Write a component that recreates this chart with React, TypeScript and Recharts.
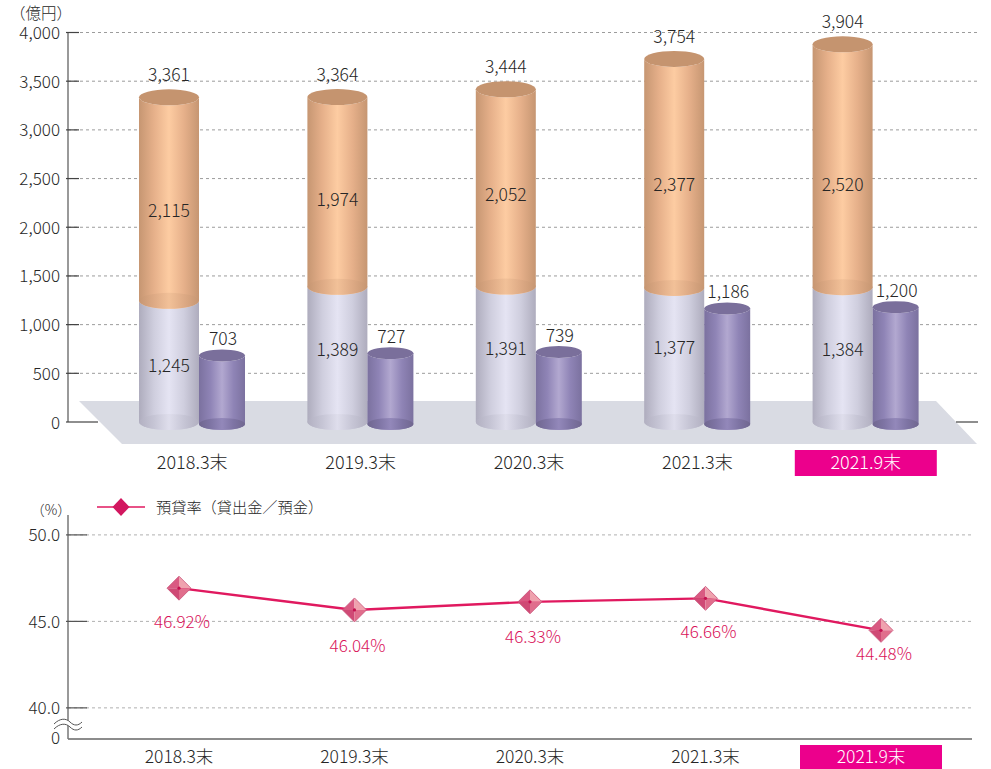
import React from 'react';
import {
    BarChart, Bar, LineChart, Line, XAxis, YAxis, CartesianGrid, LabelList,
} from 'recharts';

const periods = ['2018.3末', '2019.3末', '2020.3末', '2021.3末', '2021.9末'];
const loansCorporate = [1245, 1389, 1391, 1377, 1384];
const loansPersonal = [2115, 1974, 2052, 2377, 2520];
const totals = [3361, 3364, 3444, 3754, 3904];
const deposits = [703, 727, 739, 1186, 1200];
const yTicks = [0, 500, 1000, 1500, 2000, 2500, 3000, 3500, 4000];

// markers sit where the picture draws them, the printed labels are kept apart
const ratePlotted = [46.92, 45.66, 46.13, 46.33, 44.48];
const rateLabels = ['46.92%', '46.04%', '46.33%', '46.66%', '44.48%'];
const rateTicks = [38.2, 40, 45, 50];

// small label shifts, the original places these by hand
const personalNudge = [14, 10, 9, 13, 21];
const corporateNudge = [5, -4, -5, -6, -4];
const rateGap = [33, 36, 35, 33, 23];

const FONT = '"Noto Sans CJK JP", "Noto Sans", sans-serif';
const INK = '#262626';
const HIGHLIGHT = '#ec008c';
const RATE = '#e0195f';

const barRows = periods.map((period, i) => ({
    period,
    corporate: loansCorporate[i],
    personal: loansPersonal[i],
    total: totals[i],
    deposit: deposits[i],
}));
const rateRows = periods.map((period, i) => ({ period, rate: ratePlotted[i], label: rateLabels[i] }));

const cylinder = (id: string, rimId: string, capColor: string | null, ry: number, topNudge: number, bottomNudge: number) => (props: any) => {
    const { x, y, width, height } = props;
    const rx = width / 2;
    const top = y + topNudge;
    const bottom = y + height + bottomNudge;
    const body = `M${x},${top} L${x},${bottom} A${rx},${ry} 0 0 0 ${x + width},${bottom} L${x + width},${top} A${rx},${ry} 0 0 1 ${x},${top} Z`;
    return (
        <g>
            <path d={body} fill={`url(#${id})`} />
            <ellipse cx={x + rx} cy={bottom} rx={rx} ry={ry} fill={`url(#${rimId})`} />
            {capColor && <ellipse cx={x + rx} cy={top} rx={rx} ry={ry} fill={capColor} />}
        </g>
    );
};

const Gradient = ({ id, edge, mid, center, opacity = 1 }: any) => (
    <linearGradient id={id} x1="0" y1="0" x2="1" y2="0">
        <stop offset="0" stopColor={edge} stopOpacity={opacity} />
        <stop offset="0.25" stopColor={mid} stopOpacity={opacity} />
        <stop offset="0.5" stopColor={center} stopOpacity={opacity} />
        <stop offset="0.75" stopColor={mid} stopOpacity={opacity} />
        <stop offset="1" stopColor={edge} stopOpacity={opacity} />
    </linearGradient>
);

const periodTick = (yPos: number, rectH: number, shift: number, size: number) => (props: any) => {
    const { x, payload } = props;
    const highlighted = payload.value === '2021.9末';
    const cx = highlighted ? x + shift : x;
    return (
        <g>
            {highlighted && <rect x={cx - 71} y={yPos - rectH / 2} width={142} height={rectH} fill={HIGHLIGHT} />}
            <text x={cx} y={yPos - 2} textAnchor="middle" dominantBaseline="central" fontSize={size} fontWeight={300} fontFamily={FONT} fill={highlighted ? '#fff' : INK}>
                {payload.value}
            </text>
        </g>
    );
};

const amountTick = (props: any) => {
    const { x, y, payload } = props;
    const len = payload.value === 0 ? 32 : 13;
    return (
        <g>
            <line x1={x} x2={x + len} y1={y} y2={y} stroke="#444" strokeWidth={1.2} />
            <text x={x - 6} y={y - 1} textAnchor="end" dominantBaseline="central" fontSize={17} fontWeight={300} fontFamily={FONT} fill={INK}>
                {payload.value.toLocaleString('en-US')}
            </text>
        </g>
    );
};

const rateTick = (props: any) => {
    const { x, y, payload } = props;
    const isBreak = payload.value === rateTicks[0];
    return (
        <g>
            {!isBreak && <line x1={x} x2={x + 21} y1={y} y2={y} stroke="#555" strokeWidth={1.2} />}
            <text x={x - 6} y={isBreak ? y - 3 : y - 1} textAnchor="end" dominantBaseline="central" fontSize={17} fontWeight={300} fontFamily={FONT} fill={INK}>
                {isBreak ? '0' : payload.value.toFixed(1)}
            </text>
        </g>
    );
};

const valueLabel = (dy: (i: number, p: any) => number, dx = 0) => (props: any) => {
    const { x, y, width, height, value, index } = props;
    return (
        <text x={x + width / 2 + dx} y={y + dy(index, { height }) - 2} textAnchor="middle" dominantBaseline="central" fontSize={17.5} fontWeight={300} fontFamily={FONT} fill={INK}>
            {typeof value === 'number' ? value.toLocaleString('en-US') : value}
        </text>
    );
};

const rateDot = (props: any) => {
    const { cx, cy, index } = props;
    const r = 12;
    const t = `${cx},${cy - r}`;
    const b = `${cx},${cy + r}`;
    const l = `${cx - r},${cy}`;
    const e = `${cx + r},${cy}`;
    const c = `${cx},${cy}`;
    return (
        <g key={`dot-${index}`}>
            <polygon points={`${t} ${l} ${c}`} fill="#d95a82" />
            <polygon points={`${t} ${e} ${c}`} fill="#efa2ae" />
            <polygon points={`${l} ${b} ${c}`} fill="#cf4a75" />
            <polygon points={`${e} ${b} ${c}`} fill="#e06e8c" />
            <polygon points={`${t} ${e} ${b} ${l}`} fill="none" stroke="#c9537a" strokeWidth={0.8} />
            <circle cx={cx} cy={cy} r={1.6} fill="#c4104f" />
        </g>
    );
};

const rateLabel = (props: any) => {
    const { x, y, value, index } = props;
    return (
        <text x={x + 3} y={y + rateGap[index] - 1} textAnchor="middle" dominantBaseline="central" fontSize={17} fontWeight={300} fontFamily={FONT} fill="#d9135a">
            {value}
        </text>
    );
};

export default function App() {
    return (
        <div style={{ position: 'absolute', left: 0, top: 0, width: 991, height: 769, background: '#fff', overflow: 'hidden' }}>
            {/* floor plate sits behind the chart */}
            <svg width={991} height={490} style={{ position: 'absolute', left: 0, top: 0 }}>
                <polygon points="79,401 936,401 977,444 122,444" fill="#d9dbe3" />
                <line x1={956} x2={978} y1={422} y2={422} stroke="#444" strokeWidth={1.2} />
            </svg>

            <div style={{ position: 'absolute', left: 0, top: 0 }}>
                <BarChart width={991} height={490} data={barRows} margin={{ top: 32.5, right: 11, bottom: 0, left: 0 }} barGap={0} barCategoryGap={0}>
                    <defs>
                        <Gradient id="orangeBody" edge="#c69672" mid="#e6b08a" center="#fdcca2" />
                        <Gradient id="orangeRim" edge="#c69672" mid="#dba883" center="#eebd95" opacity={0.75} />
                        <Gradient id="lavenderBody" edge="#aeacbd" mid="#cfcede" center="#e5e4f3" />
                        <Gradient id="lavenderRim" edge="#b3b1c2" mid="#c4c3d3" center="#dddcea" opacity={0.8} />
                        <Gradient id="purpleBody" edge="#7b719f" mid="#8f84b6" center="#b2a8d0" />
                        <Gradient id="purpleRim" edge="#70678f" mid="#7e74a4" center="#9388ba" />
                    </defs>
                    <CartesianGrid vertical={false} horizontalValues={yTicks.slice(1)} stroke="#9c9c9c" strokeDasharray="3 3" />
                    <XAxis dataKey="period" axisLine={false} tickLine={false} height={68} interval={0} padding={{ left: 40, right: 30 }} tick={periodTick(463, 26, 0, 18)} />
                    <YAxis width={68} domain={[0, 4000]} ticks={yTicks} tickSize={0} tickLine={false} interval={0} axisLine={{ stroke: '#555', strokeWidth: 1.2 }} tick={amountTick} />
                    <Bar dataKey="corporate" stackId="loans" barSize={60} isAnimationActive={false} shape={cylinder('lavenderBody', 'lavenderRim', null, 8, 0, 0)}>
                        <LabelList dataKey="corporate" content={valueLabel((i, p) => p.height / 2 + corporateNudge[i])} />
                    </Bar>
                    <Bar dataKey="personal" stackId="loans" barSize={60} isAnimationActive={false} shape={cylinder('orangeBody', 'orangeRim', '#c5946f', 8, 2.5, 0)}>
                        <LabelList dataKey="personal" content={valueLabel((i, p) => p.height / 2 + personalNudge[i])} />
                        <LabelList dataKey="total" content={valueLabel(() => -19)} />
                    </Bar>
                    <Bar dataKey="deposit" stackId="deposits" barSize={46} isAnimationActive={false} shape={cylinder('purpleBody', 'purpleRim', '#7a6f9b', 6, 2, 2)}>
                        <LabelList dataKey="deposit" content={valueLabel(() => -14, 1)} />
                    </Bar>
                </BarChart>
            </div>

            <div style={{ position: 'absolute', left: 0, top: 490 }}>
                <LineChart width={991} height={279} data={rateRows} margin={{ top: 25, right: 19, bottom: 0, left: 0 }}>
                    <CartesianGrid vertical={false} horizontalValues={rateTicks.slice(1)} stroke="#b0b0b0" strokeDasharray="3 3" />
                    <XAxis dataKey="period" scale="point" axisLine={{ stroke: '#666', strokeWidth: 1.5 }} tickLine={false} height={30} interval={0} padding={{ left: 111, right: 91 }} tick={periodTick(267, 24, -10, 17.5)} />
                    <YAxis width={68} domain={[38.2, 51.15]} ticks={rateTicks} tickSize={0} tickLine={false} interval={0} axisLine={{ stroke: '#777', strokeWidth: 1.5 }} tick={rateTick} />
                    <Line dataKey="rate" stroke={RATE} strokeWidth={2.4} isAnimationActive={false} dot={rateDot} activeDot={false}>
                        <LabelList dataKey="label" content={rateLabel} />
                    </Line>
                </LineChart>
            </div>

            {/* units, legend and the axis break */}
            <svg width={991} height={769} style={{ position: 'absolute', left: 0, top: 0, pointerEvents: 'none' }}>
                <text x={41} y={12} textAnchor="middle" dominantBaseline="central" fontSize={15.5} fontWeight={300} fontFamily={FONT} fill={INK}>（億円）</text>
                <text x={51} y={509} textAnchor="middle" dominantBaseline="central" fontSize={14} fontWeight={300} fontFamily={FONT} fill={INK}>（%）</text>
                <line x1={97} x2={145} y1={507} y2={507} stroke={RATE} strokeWidth={1.5} />
                <polygon points="121,498 129.5,507 121,516 112.5,507" fill="#d2175f" />
                <text x={156} y={506} dominantBaseline="central" fontSize={15.2} fontWeight={300} fontFamily={FONT} fill={INK}>預貸率（貸出金／預金）</text>
                <path d="M54,724 C60,718 66,718 70,722 C74,726 78,726 82,722 L82,727 C78,731 74,731 70,727 C66,723 60,723 54,729 Z" fill="#fff" />
                <path d="M54,724 C60,718 66,718 70,722 C74,726 78,726 82,722" fill="none" stroke="#555" strokeWidth={1} />
                <path d="M54,729 C60,723 66,723 70,727 C74,731 78,731 82,727" fill="none" stroke="#555" strokeWidth={1} />
            </svg>
        </div>
    );
}
